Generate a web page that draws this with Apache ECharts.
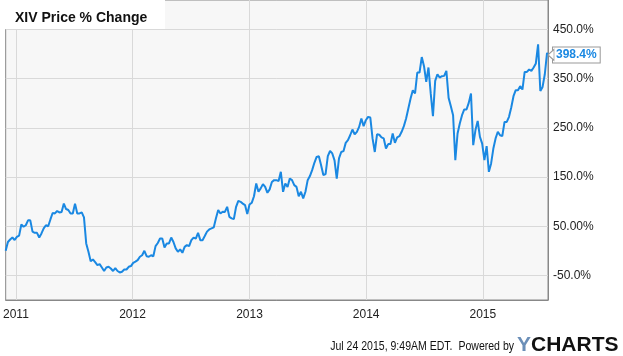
<!DOCTYPE html>
<html><head><meta charset="utf-8">
<script src="https://cdn.jsdelivr.net/npm/echarts@6/dist/echarts.min.js"></script>
<style>html,body{margin:0;padding:0;background:#fff}#c{width:623px;height:356px}</style>
</head><body><div id="c"></div>
<script>
// Weekly XIV price % change
const firstDate = '2010-11-30';
const lastDate = '2015-07-24';
const yearTicks = ['2011-01-01', '2012-01-01', '2013-01-01', '2014-01-01', '2015-01-01'];
const yTicks = [-50, 50, 150, 250, 350, 450];

const pctLate2010to2011 = [0, 18, 23, 27, 22, 28.5, 31, 53.6, 49, 52, 62, 62, 39, 36.6, 36.6, 27, 35.4, 45.5, 52, 50,
  63.8, 77, 76, 81, 78, 79, 96, 85, 83, 76, 76, 96, 76, 76, 78, 68, 15, -2, -21, -17.5];
const pctLate2011to2012 = [-23, -29, -27, -34, -41, -34, -32.5, -36, -41, -35, -41, -44, -42.6, -38, -38, -32.5, -31, -24.5, -22, -19,
  -12, -9, 0, -11, -12, -9, -11, 9.5, 16, 25, 25, 6.9, 15, 15, 27, 18, 5, -2, 3, -4, 8];
const pctLate2012to2013 = [11.6, 9.5, 21.7, 27, 25, 36.6, 21.7, 21.7, 30, 39, 43.5, 45.5, 47.6, 66, 83, 76, 79.5, 79, 89.5, 69,
  66, 64.4, 89.5, 101.6, 99.6, 96, 93, 74.6, 94, 97.6, 111, 137, 120, 127, 135.6, 130, 118, 125, 140, 143.7];
const pct2013 = [143.7, 142, 160.6, 120, 137, 130, 147, 143.7, 133.5, 130, 111, 120, 106.5, 120, 143.7, 152, 164, 179, 191, 192.5,
  174, 154, 156, 192.5, 203, 198, 184, 147, 188, 201, 202.6, 219.5, 225, 235, 246.7, 236.6, 242, 252, 269, 253.5];
const pct2014 = [265.6, 272.4, 271, 228.5, 201, 237, 236, 230.5, 228.5, 208, 217, 217, 238.6, 219.5, 230.5, 233, 242, 253.5, 269, 289.5,
  309.8, 326.6, 320, 362.6, 362.6, 394, 375.4, 343.5, 372.8, 320, 274, 345.6, 359, 352.4, 355, 355.7, 366, 311, 294, 275.8];
const pctLate2014to2015 = [184.3, 238.6, 259, 275.8, 287.4, 287.4, 300.8, 320, 214.8, 245.5, 264.2, 231.7, 218, 184.3, 212.8, 160.6, 177.6, 208, 228.5, 242,
  235, 233.5, 262, 262, 272.4, 291.5, 314.4, 326.6, 326.6, 334.8, 328, 363.8, 363.8, 368.7, 366, 372.8, 381, 420, 325, 333.3,
  359, 402.4, 398.4];

const values = [].concat(pctLate2010to2011, pctLate2011to2012, pctLate2012to2013, pct2013, pct2014, pctLate2014to2015);

// weekly dates from the first trading week, last point on the chart date
const dates = [];
const d0 = new Date(firstDate + 'T00:00:00');
for (let i = 0; i < values.length - 1; i++) {
  const d = new Date(d0.getTime());
  d.setDate(d.getDate() + 7 * i);
  dates.push(d.getTime());
}
dates.push(new Date(lastDate + 'T00:00:00').getTime());
const data = values.map((v, i) => [dates[i], v]);
const yearTs = yearTicks.map(s => new Date(s + 'T00:00:00').getTime());
const lastVal = values[values.length - 1];

const chart = echarts.init(document.getElementById('c'), null, {renderer: 'canvas'});
chart.setOption({
  animation: false,
  backgroundColor: '#fff',
  grid: {left: 5, right: 75, top: 0, bottom: 56, show: true, backgroundColor: '#f7f7f7', borderColor: '#888', borderWidth: 1},
  xAxis: {
    type: 'value',
    min: dates[0], max: dates[dates.length - 1],
    axisLine: {show: true, onZero: false, lineStyle: {color: '#888', width: 1}},
    axisTick: {show: false, customValues: yearTs},
    axisLabel: {customValues: yearTs, formatter: v => String(new Date(v).getFullYear()), color: '#222', fontSize: 12, fontFamily: 'Liberation Sans, Arial', margin: 9},
    splitLine: {show: true, lineStyle: {color: '#d9d9d9', width: 1}}
  },
  yAxis: {
    type: 'value', position: 'right',
    min: -100, max: 510,
    axisLine: {show: true, lineStyle: {color: '#888', width: 1}},
    axisTick: {show: false, customValues: yTicks},
    axisLabel: {customValues: yTicks, formatter: v => (v === 50 ? '50.00%' : v.toFixed(1) + '%'), color: '#222', fontSize: 12, fontFamily: 'Liberation Sans, Arial', margin: 5},
    splitLine: {show: true, lineStyle: {color: '#d9d9d9', width: 1}}
  },
  series: [{
    type: 'line', data: data, showSymbol: false, symbol: 'none',
    lineStyle: {color: '#1a88e2', width: 2},
    endLabel: {
      show: true, formatter: () => lastVal.toFixed(1) + '%',
      color: '#1a88e2', fontWeight: 'bold', fontSize: 12, fontFamily: 'Liberation Sans, Arial',
      backgroundColor: '#fff', borderColor: '#999', borderWidth: 1, padding: [2, 3, 1, 3], distance: 5
    },
    markPoint: {
      silent: true,
      symbol: 'path://M0,5L6,0L6,10Z', symbolSize: [6, 11], symbolOffset: [3, 0],
      itemStyle: {color: '#fff', borderColor: '#999', borderWidth: 1},
      label: {show: false},
      data: [{coord: [dates[dates.length - 1], lastVal]}]
    }
  }],
  graphic: [
    {type: 'rect', left: 5, top: 0, shape: {width: 160, height: 29}, style: {fill: '#fff'}, z: 10},
    {type: 'text', x: 15, y: 18, style: {text: 'XIV Price % Change', font: 'bold 14px "Liberation Sans", Arial', fill: '#111', verticalAlign: 'middle'}, z: 11},
    {type: 'text', x: 514, y: 346, scaleX: 0.81, style: {text: 'Jul 24 2015, 9:49AM EDT.  Powered by', font: '13px "Liberation Sans", Arial', fill: '#111', align: 'right', verticalAlign: 'middle'}, z: 11},
    {type: 'text', x: 517, y: 345, style: {
      text: '{y|Y}{c|CHARTS}', verticalAlign: 'middle',
      rich: {y: {font: 'bold 21px "Liberation Sans", Arial', fill: '#6b8fb8'}, c: {font: 'bold 21px "Liberation Sans", Arial', fill: '#111'}}
    }, z: 11}
  ]
});
</script></body></html>
